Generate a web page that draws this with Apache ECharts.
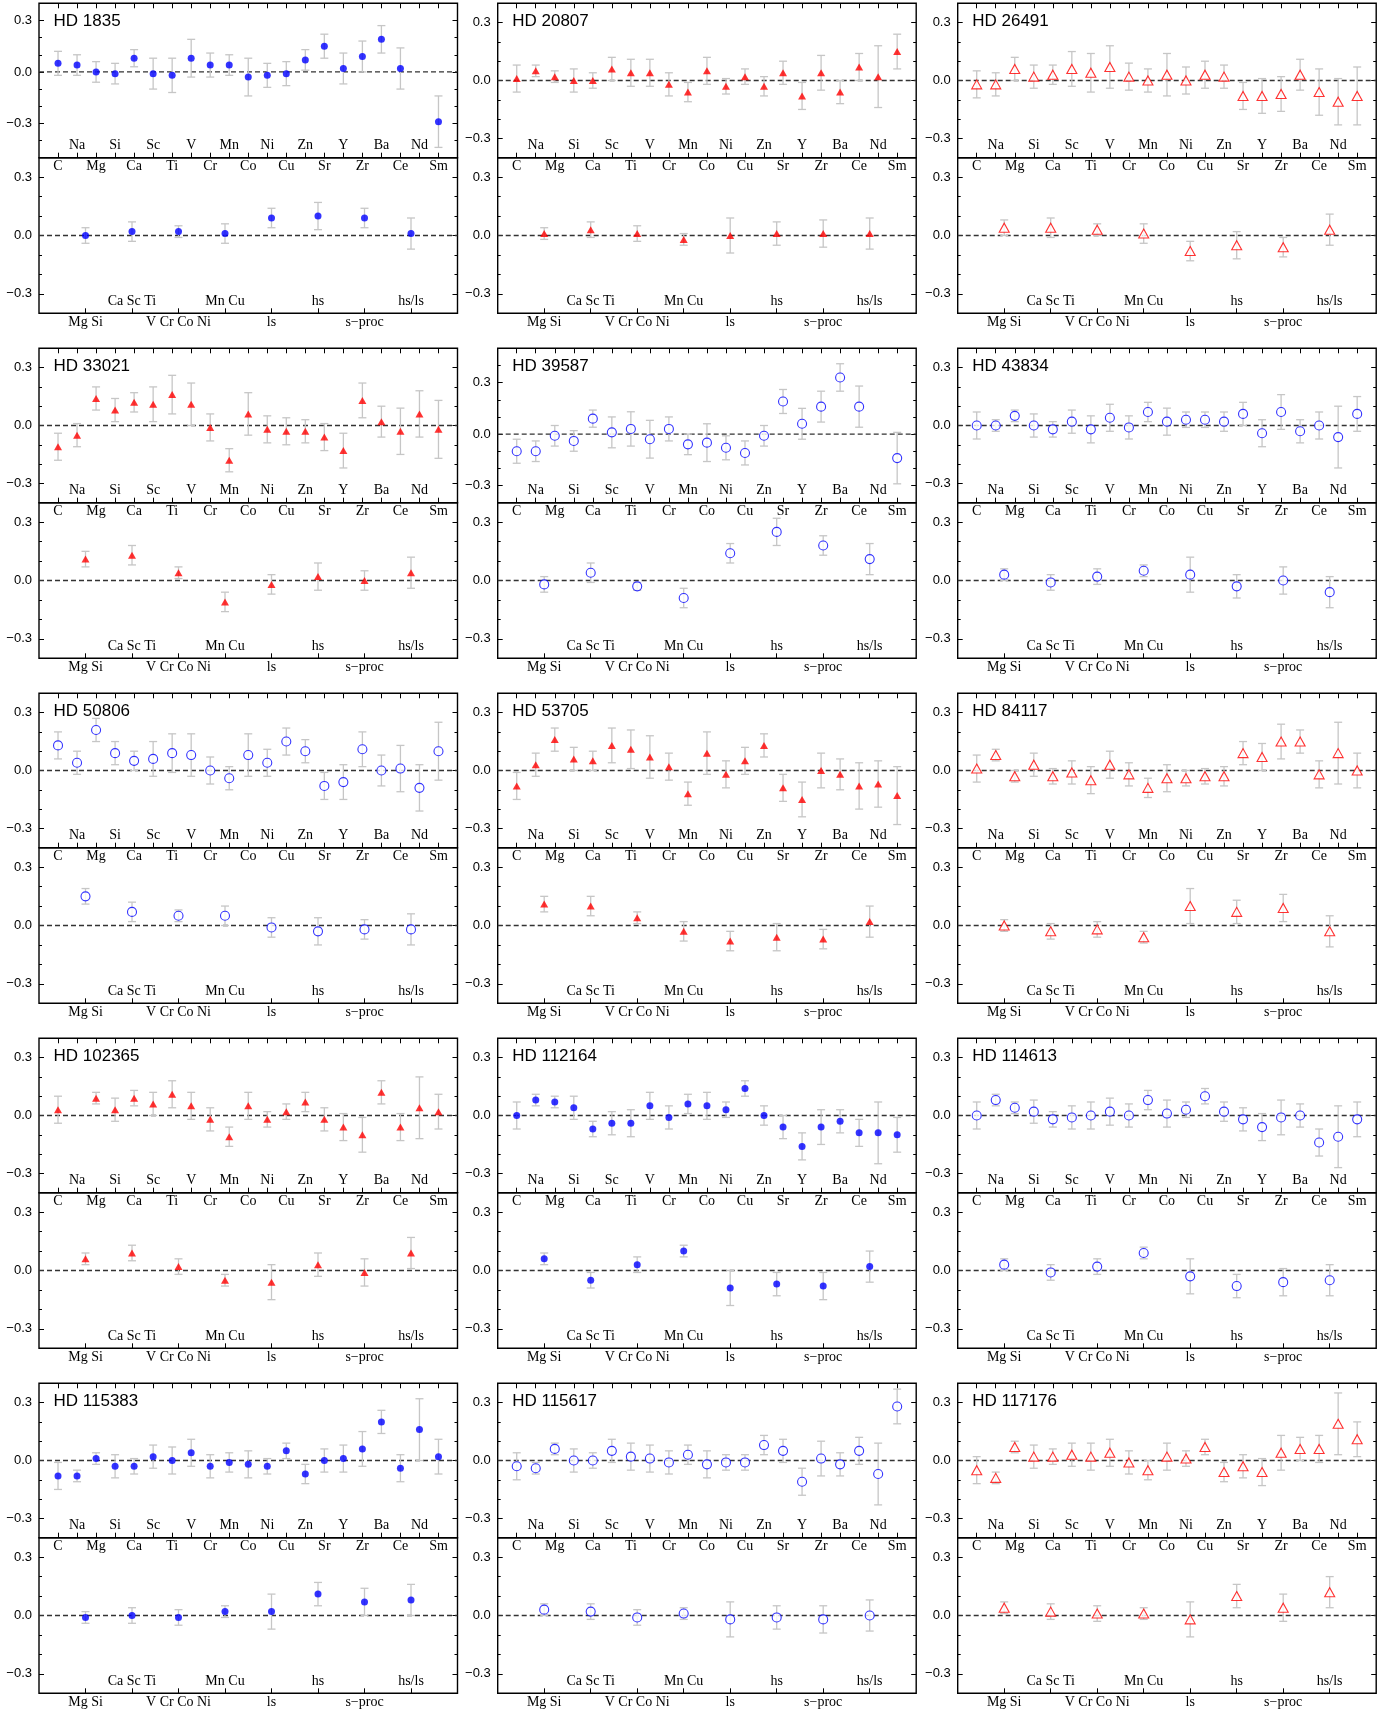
<!DOCTYPE html>
<html>
<head>
<meta charset="utf-8">
<script src="https://cdn.jsdelivr.net/npm/echarts@6/dist/echarts.min.js"></script>
<style>
html,body{margin:0;padding:0;background:#fff}
#chart{width:1396px;height:1713px}
</style>
</head>
<body>
<div id="chart"></div>
<script>
// Element abundances (upper panels) and group averages (lower panels), relative values in dex
const elements = ['C','Na','Mg','Si','Ca','Sc','Ti','V','Cr','Mn','Co','Ni','Cu','Zn','Sr','Y','Zr','Ba','Ce','Nd','Sm'];
const groups = ['Mg Si','Ca Sc Ti','V Cr Co Ni','Mn Cu','ls','hs','s\u2212proc','hs/ls'];
const majorTicks = [-0.3, 0, 0.3];

const hd1835El     = [0.05,0.04,0.00,-0.01,0.08,-0.01,-0.02,0.08,0.04,0.04,-0.03,-0.02,-0.01,0.07,0.15,0.02,0.09,0.19,0.02,null,-0.29];
const hd1835ElErr  = [0.07,0.06,0.06,0.06,0.05,0.09,0.10,0.11,0.07,0.06,0.11,0.07,0.07,0.06,0.07,0.09,0.09,0.08,0.12,null,0.15];
const hd1835Grp    = [0.00,0.02,0.02,0.01,0.09,0.10,0.09,0.01];
const hd1835GrpErr = [0.04,0.05,0.03,0.05,0.05,0.07,0.05,0.08];

const hd20807El     = [0.01,0.05,0.02,0.00,0.00,0.06,0.04,0.04,-0.02,-0.06,0.05,-0.03,0.02,-0.03,0.04,-0.08,0.04,-0.06,0.07,0.02,0.15];
const hd20807ElErr  = [0.07,0.03,0.03,0.06,0.04,0.06,0.07,0.07,0.06,0.05,0.07,0.04,0.04,0.05,0.06,0.07,0.09,0.06,0.07,0.16,0.09];
const hd20807Grp    = [0.01,0.03,0.01,-0.02,0.00,0.01,0.01,0.01];
const hd20807GrpErr = [0.03,0.04,0.04,0.03,0.09,0.06,0.07,0.08];

const hd26491El     = [-0.02,-0.02,0.06,0.02,0.03,0.06,0.04,0.07,0.02,0.00,0.03,0.00,0.03,0.02,-0.08,-0.08,-0.07,0.03,-0.06,-0.11,-0.08];
const hd26491ElErr  = [0.07,0.06,0.06,0.06,0.05,0.09,0.10,0.11,0.07,0.06,0.11,0.07,0.07,0.06,0.07,0.09,0.09,0.08,0.12,0.12,0.15];
const hd26491Grp    = [0.04,0.04,0.03,0.01,-0.08,-0.05,-0.06,0.03];
const hd26491GrpErr = [0.04,0.05,0.03,0.05,0.05,0.07,0.05,0.08];

const hd33021El     = [-0.11,-0.05,0.14,0.08,0.12,0.11,0.16,0.11,-0.01,-0.18,0.06,-0.02,-0.03,-0.03,-0.06,-0.13,0.13,0.02,-0.03,0.06,-0.02];
const hd33021ElErr  = [0.07,0.06,0.06,0.06,0.05,0.09,0.10,0.11,0.07,0.06,0.11,0.07,0.07,0.06,0.07,0.09,0.09,0.08,0.12,0.12,0.15];
const hd33021Grp    = [0.11,0.13,0.04,-0.11,-0.02,0.02,0.00,0.04];
const hd33021GrpErr = [0.04,0.05,0.03,0.05,0.05,0.07,0.05,0.08];

const hd39587El     = [-0.10,-0.10,-0.01,-0.04,0.09,0.01,0.03,-0.03,0.03,-0.06,-0.05,-0.08,-0.11,-0.01,0.19,0.06,0.16,0.33,0.16,null,-0.14];
const hd39587ElErr  = [0.07,0.06,0.06,0.06,0.05,0.09,0.10,0.11,0.07,0.06,0.11,0.07,0.07,0.06,0.07,0.09,0.09,0.08,0.12,null,0.15];
const hd39587Grp    = [-0.02,0.04,-0.03,-0.09,0.14,0.25,0.18,0.11];
const hd39587GrpErr = [0.04,0.05,0.02,0.05,0.05,0.07,0.05,0.08];

const hd43834El     = [0.00,0.00,0.05,0.00,-0.02,0.02,-0.02,0.04,-0.01,0.07,0.02,0.03,0.03,0.02,0.06,-0.04,0.07,-0.03,0.00,-0.06,0.06];
const hd43834ElErr  = [0.07,0.03,0.03,0.06,0.04,0.06,0.07,0.07,0.06,0.05,0.07,0.04,0.04,0.05,0.06,0.07,0.09,0.06,0.07,0.16,0.09];
const hd43834Grp    = [0.03,-0.01,0.02,0.05,0.03,-0.03,0.00,-0.06];
const hd43834GrpErr = [0.03,0.04,0.04,0.03,0.09,0.06,0.07,0.08];

const hd50806El     = [0.13,0.04,0.21,0.09,0.05,0.06,0.09,0.08,0.00,-0.04,0.08,0.04,0.15,0.10,-0.08,-0.06,0.11,0.00,0.01,-0.09,0.10];
const hd50806ElErr  = [0.07,0.06,0.06,0.06,0.05,0.09,0.10,0.11,0.07,0.06,0.11,0.07,0.07,0.06,0.07,0.09,0.09,0.08,0.12,0.12,0.15];
const hd50806Grp    = [0.15,0.07,0.05,0.05,-0.01,-0.03,-0.02,-0.02];
const hd50806GrpErr = [0.04,0.05,0.03,0.05,0.05,0.07,0.05,0.08];

const hd53705El     = [-0.08,0.03,0.16,0.06,0.05,0.13,0.11,0.07,0.02,-0.12,0.09,-0.02,0.05,0.13,-0.09,-0.15,0.00,-0.02,-0.08,-0.07,-0.13];
const hd53705ElErr  = [0.07,0.06,0.06,0.06,0.05,0.09,0.10,0.11,0.07,0.06,0.11,0.07,0.07,0.06,0.07,0.09,0.09,0.08,0.12,0.12,0.15];
const hd53705Grp    = [0.11,0.10,0.04,-0.03,-0.08,-0.06,-0.07,0.02];
const hd53705GrpErr = [0.04,0.05,0.03,0.05,0.05,0.07,0.05,0.08];

const hd84117El     = [0.01,0.08,-0.03,0.03,-0.03,-0.01,-0.05,0.03,-0.02,-0.09,-0.04,-0.04,-0.03,-0.03,0.09,0.07,0.15,0.15,-0.02,0.09,0.00];
const hd84117ElErr  = [0.07,0.03,0.03,0.06,0.04,0.06,0.07,0.07,0.06,0.05,0.07,0.04,0.04,0.05,0.06,0.07,0.09,0.06,0.07,0.16,0.09];
const hd84117Grp    = [0.00,-0.03,-0.02,-0.06,0.10,0.07,0.09,-0.03];
const hd84117GrpErr = [0.03,0.04,0.04,0.03,0.09,0.06,0.07,0.08];

const hd102365El     = [0.03,null,0.09,0.03,0.09,0.06,0.11,0.05,-0.02,-0.11,0.05,-0.02,0.02,0.07,-0.02,-0.06,-0.10,0.12,-0.06,0.04,0.02];
const hd102365ElErr  = [0.07,null,0.03,0.06,0.04,0.06,0.07,0.07,0.06,0.05,0.07,0.04,0.04,0.05,0.06,0.07,0.09,0.06,0.07,0.16,0.09];
const hd102365Grp    = [0.06,0.09,0.02,-0.05,-0.06,0.03,-0.01,0.09];
const hd102365GrpErr = [0.03,0.04,0.04,0.03,0.09,0.06,0.07,0.08];

const hd112164El     = [0.00,0.08,0.07,0.04,-0.07,-0.04,-0.04,0.05,-0.01,0.06,0.05,0.03,0.14,0.00,-0.06,-0.16,-0.06,-0.03,-0.09,-0.09,-0.10];
const hd112164ElErr  = [0.07,0.03,0.03,0.06,0.04,0.06,0.07,0.07,0.06,0.05,0.07,0.04,0.04,0.05,0.06,0.07,0.09,0.06,0.07,0.16,0.09];
const hd112164Grp    = [0.06,-0.05,0.03,0.10,-0.09,-0.07,-0.08,0.02];
const hd112164GrpErr = [0.03,0.04,0.04,0.03,0.09,0.06,0.07,0.08];

const hd114613El     = [0.00,0.08,0.04,0.02,-0.02,-0.01,0.00,0.02,0.00,0.08,0.01,0.03,0.10,0.02,-0.02,-0.06,-0.01,0.00,-0.14,-0.11,-0.02];
const hd114613ElErr  = [0.07,0.03,0.03,0.06,0.04,0.06,0.07,0.07,0.06,0.05,0.07,0.04,0.04,0.05,0.06,0.07,0.09,0.06,0.07,0.16,0.09];
const hd114613Grp    = [0.03,-0.01,0.02,0.09,-0.03,-0.08,-0.06,-0.05];
const hd114613GrpErr = [0.03,0.04,0.04,0.03,0.09,0.06,0.07,0.08];

const hd115383El     = [-0.08,-0.08,0.01,-0.03,-0.03,0.02,0.00,0.04,-0.03,-0.01,-0.02,-0.03,0.05,-0.07,0.00,0.01,0.06,0.20,-0.04,0.16,0.02];
const hd115383ElErr  = [0.07,0.03,0.03,0.06,0.04,0.06,0.07,0.07,0.06,0.05,0.07,0.04,0.04,0.05,0.06,0.07,0.09,0.06,0.07,0.16,0.09];
const hd115383Grp    = [-0.01,0.00,-0.01,0.02,0.02,0.11,0.07,0.08];
const hd115383GrpErr = [0.03,0.04,0.04,0.03,0.09,0.06,0.07,0.08];

const hd115617El     = [-0.03,-0.04,0.06,0.00,0.00,0.05,0.02,0.01,-0.01,0.03,-0.02,-0.01,-0.01,0.08,0.05,-0.11,0.01,-0.02,0.05,-0.07,0.28];
const hd115617ElErr  = [0.07,0.03,0.03,0.06,0.04,0.06,0.07,0.07,0.06,0.05,0.07,0.04,0.04,0.05,0.06,0.07,0.09,0.06,0.07,0.16,0.09];
const hd115617Grp    = [0.03,0.02,-0.01,0.01,-0.02,-0.01,-0.02,0.00];
const hd115617GrpErr = [0.03,0.04,0.04,0.03,0.09,0.06,0.07,0.08];

const hd117176El     = [-0.05,-0.09,0.07,0.02,0.02,0.03,0.02,0.04,-0.01,-0.05,0.02,0.01,0.07,-0.06,-0.03,-0.06,0.04,0.06,0.06,0.19,0.11];
const hd117176ElErr  = [0.07,0.03,0.03,0.06,0.04,0.06,0.07,0.07,0.06,0.05,0.07,0.04,0.04,0.05,0.06,0.07,0.09,0.06,0.07,0.16,0.09];
const hd117176Grp    = [0.04,0.02,0.01,0.01,-0.02,0.10,0.04,0.12];
const hd117176GrpErr = [0.03,0.04,0.04,0.03,0.09,0.06,0.07,0.08];

const stars = [
  {name:'HD 1835',   el:hd1835El,   elErr:hd1835ElErr,   grp:hd1835Grp,   grpErr:hd1835GrpErr,   mark:'fillCircle', yTop:[-0.5,0.4]},
  {name:'HD 20807',  el:hd20807El,  elErr:hd20807ElErr,  grp:hd20807Grp,  grpErr:hd20807GrpErr,  mark:'fillTri',    yTop:[-0.4,0.4]},
  {name:'HD 26491',  el:hd26491El,  elErr:hd26491ElErr,  grp:hd26491Grp,  grpErr:hd26491GrpErr,  mark:'openTri',    yTop:[-0.4,0.4]},
  {name:'HD 33021',  el:hd33021El,  elErr:hd33021ElErr,  grp:hd33021Grp,  grpErr:hd33021GrpErr,  mark:'fillTri',    yTop:[-0.4,0.4]},
  {name:'HD 39587',  el:hd39587El,  elErr:hd39587ElErr,  grp:hd39587Grp,  grpErr:hd39587GrpErr,  mark:'openCircle', yTop:[-0.4,0.5]},
  {name:'HD 43834',  el:hd43834El,  elErr:hd43834ElErr,  grp:hd43834Grp,  grpErr:hd43834GrpErr,  mark:'openCircle', yTop:[-0.4,0.4]},
  {name:'HD 50806',  el:hd50806El,  elErr:hd50806ElErr,  grp:hd50806Grp,  grpErr:hd50806GrpErr,  mark:'openCircle', yTop:[-0.4,0.4]},
  {name:'HD 53705',  el:hd53705El,  elErr:hd53705ElErr,  grp:hd53705Grp,  grpErr:hd53705GrpErr,  mark:'fillTri',    yTop:[-0.4,0.4]},
  {name:'HD 84117',  el:hd84117El,  elErr:hd84117ElErr,  grp:hd84117Grp,  grpErr:hd84117GrpErr,  mark:'openTri',    yTop:[-0.4,0.4]},
  {name:'HD 102365', el:hd102365El, elErr:hd102365ElErr, grp:hd102365Grp, grpErr:hd102365GrpErr, mark:'fillTri',    yTop:[-0.4,0.4]},
  {name:'HD 112164', el:hd112164El, elErr:hd112164ElErr, grp:hd112164Grp, grpErr:hd112164GrpErr, mark:'fillCircle', yTop:[-0.4,0.4]},
  {name:'HD 114613', el:hd114613El, elErr:hd114613ElErr, grp:hd114613Grp, grpErr:hd114613GrpErr, mark:'openCircle', yTop:[-0.4,0.4]},
  {name:'HD 115383', el:hd115383El, elErr:hd115383ElErr, grp:hd115383Grp, grpErr:hd115383GrpErr, mark:'fillCircle', yTop:[-0.4,0.4]},
  {name:'HD 115617', el:hd115617El, elErr:hd115617ElErr, grp:hd115617Grp, grpErr:hd115617GrpErr, mark:'openCircle', yTop:[-0.4,0.4]},
  {name:'HD 117176', el:hd117176El, elErr:hd117176ElErr, grp:hd117176Grp, grpErr:hd117176GrpErr, mark:'openTri',    yTop:[-0.4,0.4]}
];

// layout of the 5 x 3 panel matrix
const colLeft = [39, 497.7, 957.7];
const plotW = 418.5;
const rowStep = 345;
const topY0 = 3.3, topH = 154.4, botH = 155.6;

const markStyles = {
  fillCircle: {symbol:'circle', symbolSize:7, itemStyle:{color:'#0000ff'}},
  openCircle: {symbol:'circle', symbolSize:9, itemStyle:{color:'#ffffff', borderColor:'#0000ff', borderWidth:1.1}},
  fillTri:    {symbol:'triangle', symbolSize:[8,7], itemStyle:{color:'#ff0000'}},
  openTri:    {symbol:'triangle', symbolSize:[10,9], itemStyle:{color:'#ffffff', borderColor:'#ff0000', borderWidth:1.1}}
};

const serif = '"Liberation Serif", "DejaVu Serif", serif';
const sans = '"Liberation Sans", "DejaVu Sans", sans-serif';

function fmtY(v) {
  if (Math.abs(v) < 1e-9) return '0.0';
  return (v < 0 ? '\u2212' : '') + Math.abs(v).toFixed(1);
}
function minorTicks(lo, hi) {
  const out = [];
  for (let k = Math.round(lo * 10) + 1; k < Math.round(hi * 10); k++) {
    if (k % 3 !== 0) out.push(k / 10);
  }
  return out;
}

function renderErr(params, api) {
  const x = api.value(0), y = api.value(1), e = api.value(2);
  const a = api.coord([x, y + e]);
  const b = api.coord([x, y - e]);
  const w = 4;
  const st = {stroke:'#c6c6c6', lineWidth:1.3};
  return {type:'group', children:[
    {type:'line', shape:{x1:a[0], y1:a[1], x2:b[0], y2:b[1]}, style:st},
    {type:'line', shape:{x1:a[0]-w, y1:a[1], x2:a[0]+w, y2:a[1]}, style:st},
    {type:'line', shape:{x1:b[0]-w, y1:b[1], x2:b[0]+w, y2:b[1]}, style:st}
  ]};
}

const option = {animation:false, backgroundColor:'#ffffff', title:[], grid:[], xAxis:[], yAxis:[], series:[]};

function addPanel(left, top, height, names, yRange, vals, errs, mark, showTopTicks) {
  const g = option.grid.length;
  const n = names.length;
  const xMax = n + 1;
  option.grid.push({left:left, top:top, width:plotW, height:height, show:true, borderColor:'#000', borderWidth:1.4});

  const pos = [], odd = [], even = [];
  for (let i = 1; i <= n; i++) { pos.push(i); (i % 2 ? odd : even).push(i); }
  const xi = option.xAxis.length;
  const xBase = {gridIndex:g, type:'value', min:0, max:xMax, axisLine:{show:false, onZero:false}, splitLine:{show:false}};
  const lbl = {fontFamily:serif, fontSize:14, color:'#000', formatter: v => names[Math.round(v) - 1]};
  option.xAxis.push(
    Object.assign({}, xBase, {position:'bottom',
      axisTick:{show:true, inside:true, length:5, customValues:pos, lineStyle:{color:'#000', width:1}},
      axisLabel:Object.assign({show:true, customValues:odd, margin:2}, lbl)}),
    Object.assign({}, xBase, {position:'bottom',
      axisTick:{show:false},
      axisLabel:Object.assign({show:true, inside:true, customValues:even, margin:5}, lbl)}),
    Object.assign({}, xBase, {position:'top',
      axisTick:{show:showTopTicks, inside:true, length:5, customValues:pos, lineStyle:{color:'#000', width:1}},
      axisLabel:{show:false}})
  );

  const yi = option.yAxis.length;
  const minors = minorTicks(yRange[0], yRange[1]);
  const yBase = {gridIndex:g, type:'value', min:yRange[0], max:yRange[1], axisLine:{show:false, onZero:false}, splitLine:{show:false}};
  const tk = (len, vals2) => ({show:true, inside:true, length:len, customValues:vals2, lineStyle:{color:'#000', width:1}});
  option.yAxis.push(
    Object.assign({}, yBase, {position:'left', axisTick:tk(5, majorTicks),
      axisLabel:{show:true, customValues:majorTicks, formatter:fmtY, margin:7, fontFamily:sans, fontSize:13, color:'#000'}}),
    Object.assign({}, yBase, {position:'left', axisTick:tk(3, minors), axisLabel:{show:false}}),
    Object.assign({}, yBase, {position:'right', axisTick:tk(5, majorTicks), axisLabel:{show:false}}),
    Object.assign({}, yBase, {position:'right', axisTick:tk(3, minors), axisLabel:{show:false}})
  );

  const pts = [];
  vals.forEach((v, i) => { if (v !== null) pts.push([i + 1, v, errs[i]]); });

  option.series.push({
    type:'line', xAxisIndex:xi, yAxisIndex:yi, data:[[0, 0], [xMax, 0]], symbol:'none', silent:true, z:1,
    lineStyle:{color:'#333', width:1.3, type:[5, 3]}
  });
  option.series.push({
    type:'custom', xAxisIndex:xi, yAxisIndex:yi, data:pts, renderItem:renderErr, silent:true, z:2,
    encode:{x:0, y:1}
  });
  const ms = markStyles[mark];
  option.series.push({
    type:'scatter', xAxisIndex:xi, yAxisIndex:yi, data:pts.map(p => [p[0], p[1]]), silent:true, z:3,
    symbol:ms.symbol, symbolSize:ms.symbolSize, itemStyle:ms.itemStyle
  });
}

stars.forEach((s, p) => {
  const c = p % 3, r = Math.floor(p / 3);
  const left = colLeft[c];
  const t = topY0 + r * rowStep;
  addPanel(left, t, topH, elements, s.yTop, s.el, s.elErr, s.mark, true);
  addPanel(left, t + topH, botH, groups, [-0.4, 0.4], s.grp, s.grpErr, s.mark, false);
  option.title.push({text:s.name, left:left + 14.5, top:t + 9.5, padding:0,
    textStyle:{fontFamily:sans, fontSize:17, fontWeight:'normal', color:'#000'}});
});

const chart = echarts.init(document.getElementById('chart'), null, {renderer:'canvas'});
chart.setOption(option);
</script>
</body>
</html>
